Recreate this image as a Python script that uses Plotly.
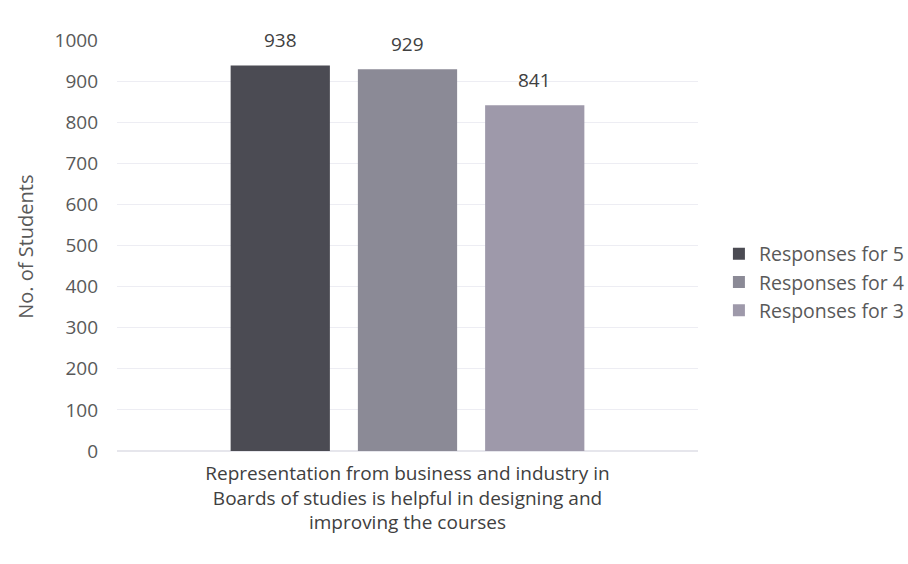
import plotly.graph_objects as go

category = ["Representation from business and industry in<br>Boards of studies is helpful in designing and<br>improving the courses"]
series_names = ["Responses for 5", "Responses for 4", "Responses for 3"]
series_values = [[938], [929], [841]]
colors = ["#4b4b53", "#8b8a96", "#9e99aa"]
y_title = "No. of Students"

W, H = 908, 564
L, T, B = 117, 40, 113
plot_w = 581
bargap = 0.343
slot_px = plot_w * (1 - bargap) / len(series_names)

fig = go.Figure()
for i, (name, vals, col) in enumerate(zip(series_names, series_values, colors)):
    fig.add_trace(go.Bar(
        x=category, y=vals, name=name, marker=dict(color=col, line=dict(width=0)),
    ))
    for c, v in zip(category, vals):
        fig.add_annotation(
            x=c, y=v, text=str(v), showarrow=False,
            xshift=(i - (len(series_names) - 1) / 2) * slot_px,
            yshift=25, yanchor="middle",
            font=dict(size=19, color="#404040"),
        )

fig.add_annotation(
    xref="paper", yref="paper", x=0, y=0.497, xanchor="center", yanchor="middle",
    xshift=26 - L, text=y_title, textangle=-90, showarrow=False,
    font=dict(size=20, color="#595959"),
)

fig.update_layout(
    width=W, height=H,
    margin=dict(l=L, r=W - L - plot_w, t=T, b=B, autoexpand=False),
    paper_bgcolor="white", plot_bgcolor="white",
    barmode="group", bargap=bargap, bargroupgap=0.22,
    font=dict(family="Open Sans, Noto Sans, sans-serif", color="#595959", size=19),
    showlegend=True,
    legend=dict(x=1.036, xanchor="left", y=0.41, yanchor="middle",
                font=dict(size=19.5, color="#595959"), itemwidth=30),
    yaxis=dict(range=[0, 1000], dtick=100, showgrid=True, gridcolor="#ededf3",
               zeroline=True, zerolinecolor="#e6e6ec", tickfont=dict(size=19),
               ticks="", ticklabelstandoff=18),
    xaxis=dict(tickfont=dict(size=19, color="#404040"), showline=False, ticks="",
               ticklabelstandoff=9),
)
fig.write_html("out.html", config={"displayModeBar": False},
               post_script="document.body.style.margin='0';")
